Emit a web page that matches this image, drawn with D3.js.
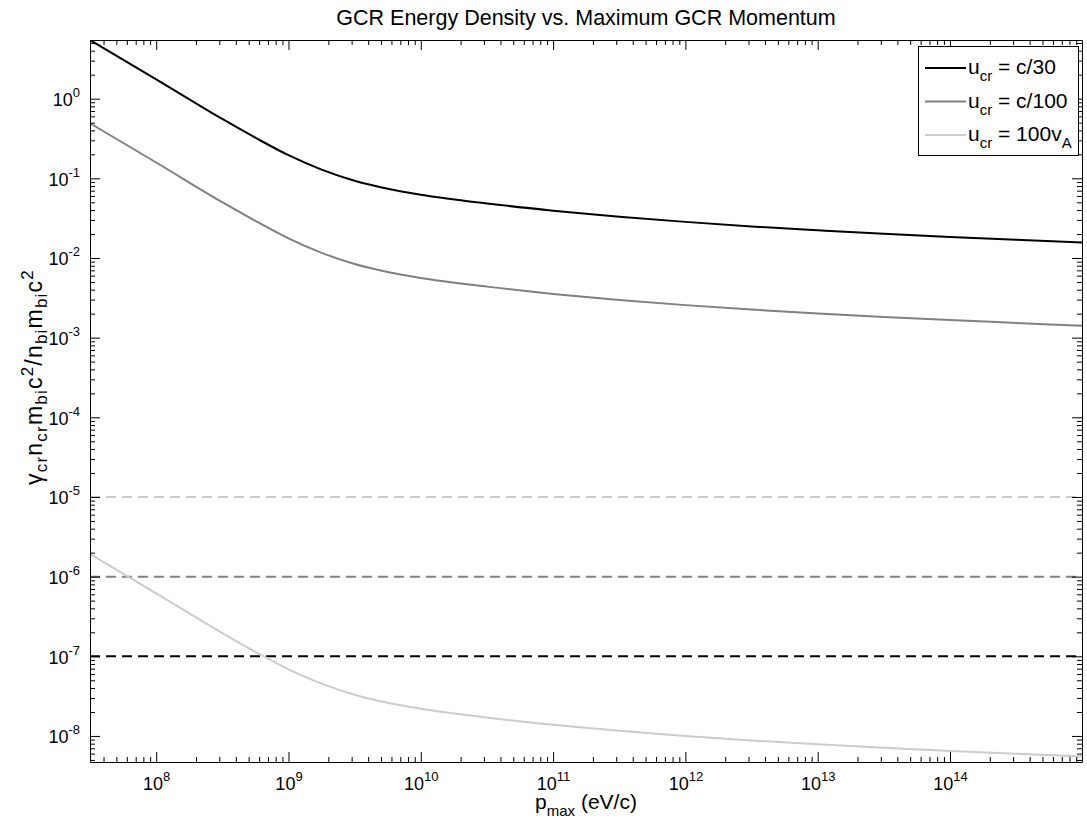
<!DOCTYPE html>
<meta charset="utf-8">
<style>
body { margin: 0; background: #fff; }
text { font-family: "Liberation Sans", Arial, sans-serif; fill: #000; }
.axis path, .axis line { stroke: #000; }
</style>
<body>
<div id="chart"></div>
<script src="https://cdn.jsdelivr.net/npm/d3@7"></script>
<script>
// values (denser around the knee near 1e9 eV/c)
var pmax = [3.16e7, 1e8, 3.16e8, 5.62e8, 1e9, 1.78e9, 3.16e9, 5.62e9, 1e10, 3.16e10, 1e11, 3.16e11,
            1e12, 3.16e12, 1e13, 3.16e13, 1e14, 3.16e14, 1e15];
var uC30  = [5.445, 1.75, 0.556, 0.3236, 0.195, 0.1288, 0.0933, 0.0741, 0.0624, 0.0484, 0.0393, 0.033,
             0.0284, 0.0249, 0.0223, 0.0201, 0.0184, 0.0169, 0.01567];
var uC100 = [0.491, 0.158, 0.0501, 0.0292, 0.0176, 0.0116, 0.00841, 0.00668, 0.00562, 0.00437, 0.00354, 0.00297,
             0.00256, 0.00225, 0.00201, 0.00182, 0.00166, 0.00153, 0.00141];
var u100vA = [1.92e-6, 6.17e-7, 1.96e-7, 1.14e-7, 6.87e-8, 4.54e-8, 3.29e-8, 2.61e-8, 2.2e-8, 1.71e-8, 1.38e-8, 1.16e-8,
              1.0e-8, 8.79e-9, 7.85e-9, 7.1e-9, 6.49e-9, 5.97e-9, 5.52e-9];
// horizontal reference levels
var thresholds = [1e-7, 1e-6, 1e-5];

var seriesNames = ["c/30", "c/100", "100v"];
var seriesColors = ["#000000", "#808080", "#cccccc"];

var xTicks = [1e8, 1e9, 1e10, 1e11, 1e12, 1e13, 1e14];
var yTicks = [1e-8, 1e-7, 1e-6, 1e-5, 1e-4, 1e-3, 1e-2, 1e-1, 1e0];

var width = 1087, height = 831;
var pLeft = 90, pRight = 1082, pTop = 40, pBottom = 762;

var svg = d3.select("#chart").append("svg")
    .attr("width", width)
    .attr("height", height);

var x = d3.scaleLog().domain([3.16e7, 9.95e14]).range([pLeft, pRight]);
var y = d3.scaleLog().domain([4.71e-9, 5.45]).range([pBottom, pTop]);

// write text with sub/superscripts: parts = [[str, shift]], shift 1 = sup, -1 = sub
function rich(sel, parts, big, small, up, down) {
  var cur = 0;
  parts.forEach(function(p) {
    var target = p[1] == 1 ? -up : (p[1] == -1 ? down : 0);
    sel.append("tspan")
      .attr("dy", target - cur)
      .style("font-size", (p[1] == 0 ? big : small) + "px")
      .text(p[0]);
    cur = target;
  });
}

svg.append("defs").append("clipPath").attr("id", "clip")
  .append("rect").attr("x", pLeft).attr("y", pTop)
  .attr("width", pRight - pLeft).attr("height", pBottom - pTop);

var plot = svg.append("g").attr("clip-path", "url(#clip)");

// dashed levels
plot.selectAll(".level")
    .data(thresholds)
  .enter().append("line")
    .attr("x1", pLeft).attr("x2", pRight)
    .attr("y1", function(d) { return y(d); })
    .attr("y2", function(d) { return y(d); })
    .attr("stroke", function(d, i) { return seriesColors[i]; })
    .attr("stroke-width", 2)
    .attr("stroke-dasharray", "10,6");

var line = d3.line()
    .x(function(d) { return x(d[0]); })
    .y(function(d) { return y(d[1]); })
    .curve(d3.curveMonotoneX);

[uC30, uC100, u100vA].forEach(function(vals, i) {
  plot.append("path")
    .datum(pmax.map(function(p, j) { return [p, vals[j]]; }))
    .attr("fill", "none")
    .attr("stroke", seriesColors[i])
    .attr("stroke-width", 2)
    .attr("d", line);
});

// axes, ticks pointing inward on all four sides
var xMinor = x.ticks().filter(function(d) { return xTicks.indexOf(d) < 0; });
var yMinor = y.ticks().filter(function(d) { return yTicks.indexOf(d) < 0; });

function sideAxis(axisFn, scale, pos, major, minor, labels) {
  var g = svg.append("g").attr("class", "axis").attr("transform", pos);
  g.call(axisFn(scale).tickValues(minor).tickSize(-5).tickSizeOuter(0).tickFormat(""));
  g.selectAll(".tick text").remove();
  var g2 = svg.append("g").attr("class", "axis").attr("transform", pos);
  g2.call(axisFn(scale).tickValues(major).tickSize(-10).tickSizeOuter(0).tickPadding(10)
      .tickFormat(function(d) { return "10"; }));
  g2.select(".domain").remove();
  if (!labels) {
    g2.selectAll(".tick text").remove();
  } else {
    g2.selectAll(".tick text").each(function(d) {
      var t = d3.select(this).text("").style("font-size", "18px");
      rich(t, [["10", 0], [String(Math.round(Math.log10(d))), 1]], 18, 13, 9, 0);
    });
  }
  return g2;
}

var bx = sideAxis(d3.axisBottom, x, "translate(0," + pBottom + ")", xTicks, xMinor, true);
bx.selectAll(".tick text").attr("y", 28);
sideAxis(d3.axisTop, x, "translate(0," + pTop + ")", xTicks, xMinor, false);
var ly = sideAxis(d3.axisLeft, y, "translate(" + pLeft + ",0)", yTicks, yMinor, true);
ly.selectAll(".tick text").attr("x", -10).attr("y", 7);
sideAxis(d3.axisRight, y, "translate(" + pRight + ",0)", yTicks, yMinor, false);

// title and labels
svg.append("text")
    .attr("x", (pLeft + pRight) / 2).attr("y", 25)
    .attr("text-anchor", "middle")
    .style("font-size", "21.5px")
    .text("GCR Energy Density vs. Maximum GCR Momentum");

var xl = svg.append("text")
    .attr("x", (pLeft + pRight) / 2).attr("y", 809)
    .attr("text-anchor", "middle");
rich(xl, [["p", 0], ["max", -1], [" (eV/c)", 0]], 21, 15, 9, 7);

var yl = svg.append("text")
    .attr("transform", "translate(42,377) rotate(-90)")
    .attr("text-anchor", "middle")
    .style("letter-spacing", "1.2px");
rich(yl, [["\u03b3", 0], ["cr", -1], ["n", 0], ["cr", -1], ["m", 0], ["bi", -1],
          ["c", 0], ["2", 1], ["/n", 0], ["bi", -1], ["m", 0], ["bi", -1], ["c", 0], ["2", 1]], 23, 17, 9, 5);

// legend
var lg = svg.append("g");
lg.append("rect")
    .attr("x", 918.5).attr("y", 46.5).attr("width", 160).attr("height", 109)
    .attr("fill", "#fff").attr("stroke", "#000");
var rowY = [68, 101.5, 135];
seriesNames.forEach(function(name, i) {
  lg.append("line")
    .attr("x1", 925).attr("x2", 966)
    .attr("y1", rowY[i]).attr("y2", rowY[i])
    .attr("stroke", seriesColors[i]).attr("stroke-width", 2);
  var t = lg.append("text").attr("x", 968).attr("y", rowY[i] + 6);
  var parts = [["u", 0], ["cr", -1], [" = " + name, 0]];
  if (name == "100v") parts.push(["A", -1]);
  rich(t, parts, 21, 15, 9, 7);
});
</script>
</body>
